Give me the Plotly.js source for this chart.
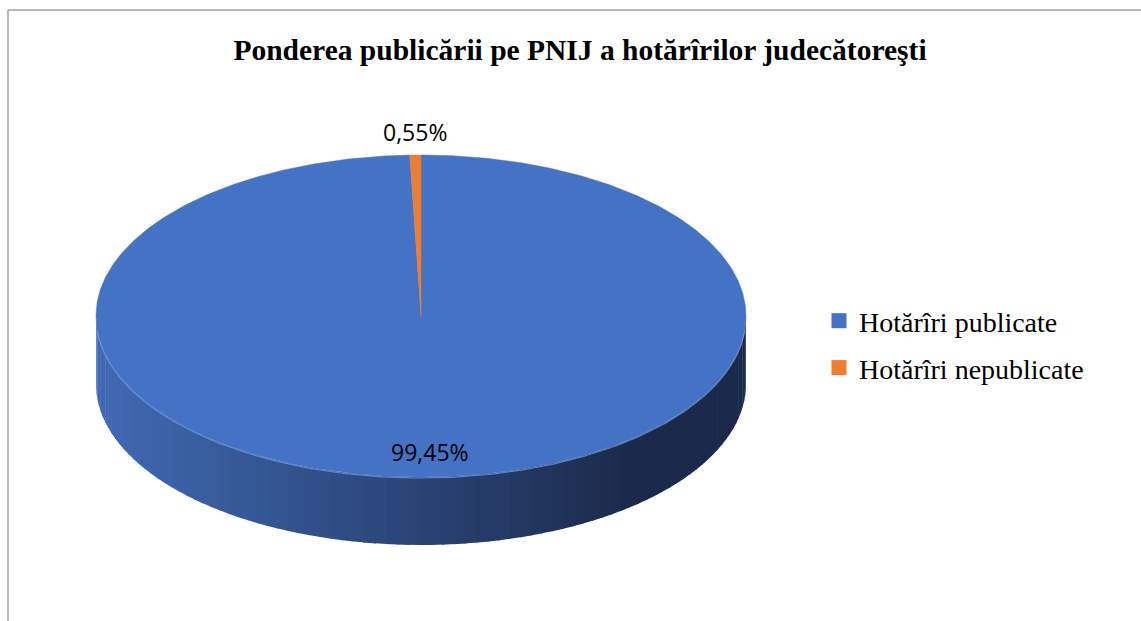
<!DOCTYPE html>
<html><head><meta charset="utf-8">
<script src="https://cdn.plot.ly/plotly-3.0.1.min.js"></script>
<style>html,body{margin:0;padding:0;background:#fff;overflow:hidden}</style>
</head><body><div id="chart" style="width:1141px;height:621px"></div>
<script>
// ---- data ----
const categories = ["Hotărîri publicate", "Hotărîri nepublicate"];
const values = [99.45, 0.55];
const sliceColors = ["#4472c4", "#ed7d31"];
const chartTitle = "Ponderea publicării pe PNIJ a hotărîrilor judecătoreşti";

// ---- geometry (layout only) ----
const W = 1141, H = 621;
const cx = 421, cy = 316, rx = 325, ry = 161, depth = 68;
const deg = Math.PI / 180;
const px = th => cx + rx * Math.sin(th * deg);
const py = th => cy - ry * Math.cos(th * deg);

const total = values.reduce((a, b) => a + b, 0);
const traces = [];

// slice angle spans (clockwise from 12 o'clock)
const spans = [];
let acc = 0;
values.forEach(v => { const a0 = acc / total * 360; acc += v; spans.push([a0, acc / total * 360]); });

// side of the cylinder (front half only), shaded strips
const cL = [64, 106, 180], cR = [27, 42, 75];
function sideColor(x) {
  let t = (x - (cx - rx)) / (2 * rx) / 0.82;
  t = Math.min(1, Math.max(0, t));
  const c = cL.map((v, i) => Math.round(v + (cR[i] - v) * t));
  return `rgb(${c[0]},${c[1]},${c[2]})`;
}
spans.forEach((sp, si) => {
  const a = Math.max(sp[0], 90), b = Math.min(sp[1], 270);
  if (b <= a) return;
  const n = Math.max(1, Math.ceil((b - a) / 2));
  for (let k = 0; k < n; k++) {
    const t0 = a + (b - a) * k / n, t1 = a + (b - a) * (k + 1) / n + 0.3;
    const xs = [], ys = [];
    for (let s = 0; s <= 4; s++) { const t = t0 + (t1 - t0) * s / 4; xs.push(px(t)); ys.push(py(t)); }
    for (let s = 4; s >= 0; s--) { const t = t0 + (t1 - t0) * s / 4; xs.push(px(t)); ys.push(py(t) + depth); }
    const mid = (t0 + t1) / 2;
    const col = si === 0 ? sideColor(px(mid)) : "#b85d1f";
    traces.push({ type: "scatter", mode: "lines", x: xs, y: ys, fill: "toself",
      fillcolor: col, line: { width: 0, color: col }, showlegend: false, hoverinfo: "skip" });
  }
});

// top face slices
spans.forEach((sp, si) => {
  const xs = [cx], ys = [cy];
  const n = Math.max(2, Math.ceil((sp[1] - sp[0]) / 0.5));
  for (let k = 0; k <= n; k++) { const t = sp[0] + (sp[1] - sp[0]) * k / n; xs.push(px(t)); ys.push(py(t)); }
  xs.push(cx); ys.push(cy);
  traces.push({ type: "scatter", mode: "lines", x: xs, y: ys, fill: "toself",
    fillcolor: sliceColors[si], line: { width: 0.5, color: sliceColors[si] }, showlegend: false, hoverinfo: "skip" });
});

// subtle highlight along front rim
(function () {
  const xs = [], ys = [];
  for (let t = 95; t <= 265; t += 1) { xs.push(px(t)); ys.push(py(t) + 1); }
  traces.push({ type: "scatter", mode: "lines", x: xs, y: ys, line: { width: 1.2, color: "rgba(110,150,215,0.8)" },
    showlegend: false, hoverinfo: "skip" });
})();

// legend entries
categories.forEach((c, i) => traces.push({ type: "scatter", mode: "markers", x: [null], y: [null], name: c,
  legendgroup: "g" + i, marker: { symbol: "square", size: 15, color: sliceColors[i] }, showlegend: true }));

// data labels
const fmt = v => v.toFixed(2).replace(".", ",") + "%";
const annotations = spans.map((sp, si) => {
  const mid = (sp[0] + sp[1]) / 2;
  const f = values[si] / total > 0.05 ? 0.845 : 1.13;
  return { x: cx + rx * f * Math.sin(mid * deg) + (f > 1 ? 0 : 4), y: cy - ry * f * Math.cos(mid * deg) - (f > 1 ? 2 : 0),
    xref: "x", yref: "y", text: fmt(values[si]), showarrow: false,
    font: { family: "Open Sans, Noto Sans, sans-serif", size: 23, color: "#000" } };
});

const layout = {
  width: W, height: H,
  margin: { l: 0, r: 0, t: 0, b: 0 },
  paper_bgcolor: "#fff", plot_bgcolor: "#fff",
  title: { text: "<b>" + chartTitle + "</b>", x: 580 / W, xanchor: "center", y: 1 - 50 / H, yanchor: "middle",
    font: { family: "Liberation Serif, Times New Roman, serif", size: 29.5, color: "#000" } },
  xaxis: { range: [0, W], visible: false, fixedrange: true },
  yaxis: { range: [H, 0], visible: false, fixedrange: true },
  showlegend: true,
  legend: { x: 819 / W, xanchor: "left", y: 1 - 296 / H, yanchor: "top", traceorder: "grouped", tracegroupgap: 7.5,
    font: { family: "Liberation Serif, Times New Roman, serif", size: 28, color: "#000" }, bgcolor: "rgba(0,0,0,0)", itemwidth: 30 },
  hovermode: false,
  annotations: annotations,
  shapes: [
    { type: "line", xref: "x", yref: "y", x0: 8, y0: 10, x1: W + 5, y1: 10, line: { color: "#a0a0a0", width: 1.5 } },
    { type: "line", xref: "x", yref: "y", x0: 8, y0: 10, x1: 8, y1: H + 5, line: { color: "#a0a0a0", width: 1.5 } }
  ]
};
Plotly.newPlot("chart", traces, layout, { displayModeBar: false, staticPlot: true });
</script></body></html>
